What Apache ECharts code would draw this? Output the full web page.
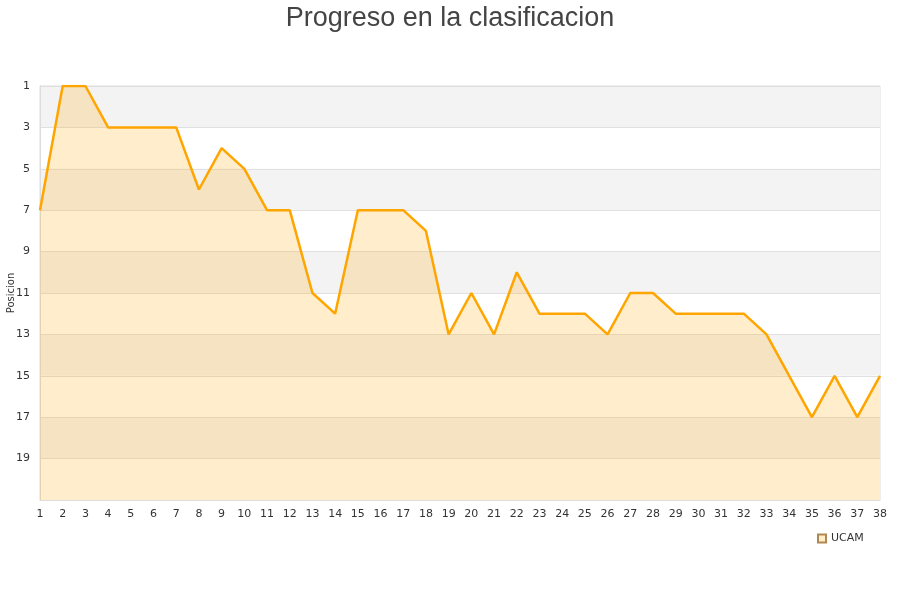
<!DOCTYPE html>
<html><head><meta charset="utf-8">
<script src="https://cdn.jsdelivr.net/npm/echarts@6/dist/echarts.min.js"></script>
<style>html,body{margin:0;padding:0;background:#fff}#c{width:900px;height:600px}</style>
</head><body><div id="c"></div>
<script>
const jornadas = ['1','2','3','4','5','6','7','8','9','10','11','12','13','14','15','16','17','18','19','20','21','22','23','24','25','26','27','28','29','30','31','32','33','34','35','36','37','38'];
const posiciones = [7,1,1,3,3,3,3,6,4,5,7,7,11,12,7,7,7,8,13,11,13,10,12,12,12,13,11,11,12,12,12,12,13,15,17,15,17,15];
const seriesName = 'UCAM';
const titleText = 'Progreso en la clasificacion';
const yName = 'Posicion';

const chart = echarts.init(document.getElementById('c'), null, {renderer:'canvas'});
chart.setOption({
  animation:false,
  backgroundColor:'#fff',
  title:{text:titleText,left:'center',top:0,textStyle:{fontFamily:'Liberation Sans, Arial',fontSize:27,fontWeight:'normal',color:'#444'}},
  grid:{left:40,right:20,top:86,bottom:100,containLabel:false,outerBoundsMode:'none',show:true,borderColor:'#ddd',borderWidth:1,backgroundColor:'transparent'},
  legend:{data:[{name:seriesName,icon:'rect'}],left:812,top:528,itemWidth:8,itemHeight:8,itemGap:6,
    textStyle:{fontFamily:'DejaVu Sans',fontSize:11,color:'#333'}},
  xAxis:{type:'category',data:jornadas,boundaryGap:false,
    axisLine:{show:true,lineStyle:{color:'#ddd'}},axisTick:{show:false},
    axisLabel:{fontFamily:'DejaVu Sans',fontSize:11,color:'#333',margin:9,interval:0},
    splitLine:{show:false}},
  yAxis:{type:'value',inverse:true,min:1,max:21,interval:2,
    name:yName,nameLocation:'middle',nameGap:24,nameMoveOverlap:false,nameTextStyle:{fontFamily:'DejaVu Sans',fontSize:10,color:'#333'},
    axisLine:{show:true,lineStyle:{color:'#ddd'}},axisTick:{show:false},
    axisLabel:{fontFamily:'DejaVu Sans',fontSize:11,color:'#333',margin:10,formatter:v=>v===21?'':String(v)},
    splitLine:{show:true,lineStyle:{color:'#e0e0e0'}},
    splitArea:{show:true,areaStyle:{color:['#f3f3f3','#ffffff']}}},
  series:[{name:seriesName,type:'line',data:posiciones,showSymbol:false,symbol:'none',
    lineStyle:{color:'#FFA500',width:2.5},itemStyle:{color:'#FFEDCC',borderColor:'#b08850',borderWidth:1},
    areaStyle:{color:'#FFA500',opacity:0.2,origin:'end'}}]
});
</script></body></html>
